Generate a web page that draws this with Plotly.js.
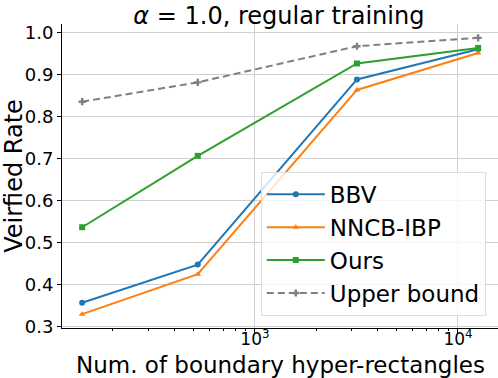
<!DOCTYPE html>
<html>
<head>
<meta charset="utf-8">
<script src="https://cdn.plot.ly/plotly-3.0.1.min.js"></script>
<style>
  html, body { margin: 0; padding: 0; background: #fff; }
  #chart { width: 498px; height: 378px; }
</style>
</head>
<body>
<div id="chart"></div>
<script>
// number of boundary hyper-rectangles (x, log scale)
const numRects = [141, 523, 3180, 12560];
const xTickVals = [1000, 10000];
const xTickText = ['10<sup>3</sup>', '10<sup>4</sup>'];

// verified rate per method
const bbv = [0.357, 0.448, 0.889, 0.961];
const nncbIbp = [0.330, 0.425, 0.864, 0.952];
const ours = [0.537, 0.707, 0.927, 0.964];
const upperBound = [0.836, 0.882, 0.968, 0.988];

const font = 'DejaVu Sans, sans-serif';

function series(name, y, color, symbol, dash) {
  return {
    x: numRects,
    y: y,
    name: name,
    type: 'scatter',
    mode: 'lines+markers',
    line: { color: color, width: 2, dash: dash || 'solid' },
    marker: { color: color, symbol: symbol, size: 6 }
  };
}

const data = [
  series('BBV', bbv, '#1f77b4', 'circle'),
  series('NNCB-IBP', nncbIbp, '#ff7f0e', 'triangle-up'),
  series('Ours', ours, '#2ca02c', 'square'),
  series('Upper bound', upperBound, '#7f7f7f', 'cross', '7px,4px')
];

const layout = {
  width: 498,
  height: 378,
  margin: { l: 62, r: 0, t: 24, b: 50 },
  paper_bgcolor: '#fff',
  plot_bgcolor: '#fff',
  font: { family: font, color: '#000', size: 18 },
  title: {
    text: '<i>α</i> = 1.0, regular training',
    font: { family: font, size: 24, color: '#000' },
    x: 0.56,
    xanchor: 'center',
    y: 0.982,
    yanchor: 'top'
  },
  xaxis: {
    type: 'log',
    range: [2.05, 4.197],
    tickvals: xTickVals,
    ticktext: xTickText,
    tickfont: { family: font, size: 17, color: '#000' },
    ticks: 'outside',
    ticklen: 4,
    ticklabelstandoff: -8,
    tickcolor: '#000',
    showline: true,
    linecolor: '#000',
    linewidth: 1,
    showgrid: true,
    gridcolor: '#d0d0d0',
    zeroline: false,
    minor: {
      tickvals: [200, 300, 400, 500, 600, 700, 800, 900, 2000, 3000, 4000, 5000, 6000, 7000, 8000, 9000],
      ticks: 'outside',
      ticklen: 2,
      tickcolor: '#000',
      showgrid: false
    }
  },
  yaxis: {
    range: [0.297, 1.021],
    tickvals: [0.3, 0.4, 0.5, 0.6, 0.7, 0.8, 0.9, 1.0],
    ticktext: ['0.3', '0.4', '0.5', '0.6', '0.7', '0.8', '0.9', '1.0'],
    tickfont: { family: font, size: 18, color: '#000' },
    ticks: 'outside',
    ticklen: 4,
    tickcolor: '#000',
    showline: true,
    linecolor: '#000',
    linewidth: 1,
    showgrid: true,
    gridcolor: '#d0d0d0',
    zeroline: false,
    title: {
      text: 'Veirfied Rate',
      font: { family: font, size: 24, color: '#000' },
      standoff: 6
    }
  },
  annotations: [{
    text: 'Num. of boundary hyper-rectangles',
    xref: 'paper',
    yref: 'paper',
    x: 0.5,
    y: 0,
    xanchor: 'center',
    yanchor: 'top',
    yshift: -22,
    showarrow: false,
    font: { family: font, size: 23, color: '#000' }
  }],
  legend: {
    x: 0.972,
    y: 0.04,
    xanchor: 'right',
    yanchor: 'bottom',
    bgcolor: 'rgba(255,255,255,0.8)',
    bordercolor: '#dddddd',
    borderwidth: 1,
    font: { family: font, size: 23, color: '#000' },
    itemwidth: 58,
    tracegroupgap: 0
  },
  showlegend: true
};

Plotly.newPlot('chart', data, layout, { displayModeBar: false, staticPlot: true });
</script>
</body>
</html>
